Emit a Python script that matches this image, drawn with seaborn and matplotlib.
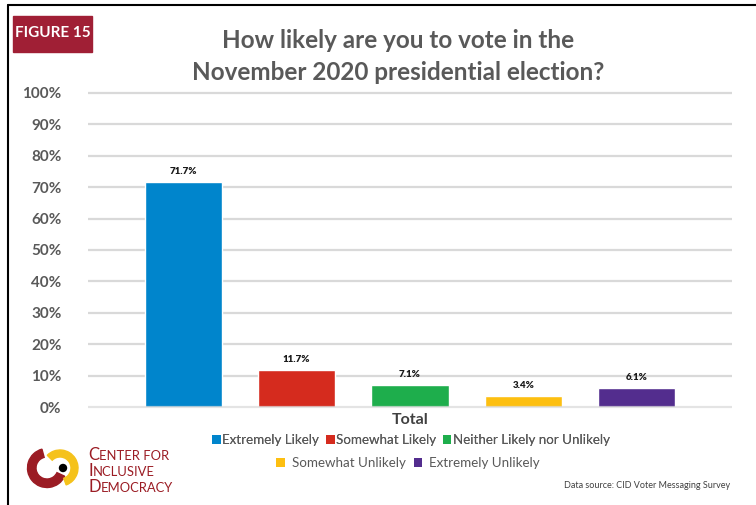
import matplotlib
matplotlib.use("Agg")
import matplotlib.pyplot as plt
import seaborn as sns
import pandas as pd
from matplotlib.patches import Patch, Rectangle, Wedge, Circle
from matplotlib.lines import Line2D

categories = ["Extremely Likely", "Somewhat Likely", "Neither Likely nor Unlikely",
              "Somewhat Unlikely", "Extremely Unlikely"]
values = [71.7, 11.7, 7.1, 3.4, 6.1]
colors = ["#0085CC", "#D52B1E", "#1EAE4C", "#FDBF11", "#532D8E"]
yticks = [0, 10, 20, 30, 40, 50, 60, 70, 80, 90, 100]
ytick_labels = [f"{t}%" for t in yticks]

sns.set_theme(style="white")
plt.rcParams['font.family'] = ['Lato', 'DejaVu Sans']

df = pd.DataFrame({"cat": categories, "val": values})

fig = plt.figure(figsize=(7.56, 5.05), dpi=100)
W, H = 756, 505
def fx(x): return x / W
def fy(y): return 1 - y / H

ax = fig.add_axes([fx(88), fy(409), fx(732) - fx(88), fy(91) - fy(409)])
sns.barplot(data=df, x="cat", y="val", hue="cat", palette=colors, dodge=False,
            width=0.68, ax=ax, legend=False, zorder=2, saturation=1)
ax.set_ylim(-0.6, 100.6)
ax.set_xlim(-0.84, 4.84)
ax.set_yticks(yticks)
ax.set_yticklabels(ytick_labels)
ax.set_xticks([])
for t in yticks:
    ax.axhline(t, color="#D9D9D9", lw=1.6, zorder=1 if t > 0 else 3, alpha=1 if t > 0 else 0.7)
for s in ax.spines.values():
    s.set_visible(False)
ax.tick_params(axis="y", length=0, pad=19, labelsize=11, labelcolor="#595959")
for lab in ax.get_yticklabels():
    lab.set_fontweight("bold")
ax.set_xlabel("")
ax.set_ylabel("")
for i, v in enumerate(values):
    ax.text(i, v + 2.0, f"{v}%", ha="center", va="bottom", fontsize=7,
            fontweight="heavy", color="#1a1a1a")

# Total label
fig.text(fx(410), fy(420), "Total", ha="center", va="center", fontsize=11.5,
         fontweight="bold", color="#404040")

# Title
fig.text(fx(398), fy(40), "How likely are you to vote in the", ha="center", va="center",
         fontsize=17.5, fontweight="bold", color="#595959")
fig.text(fx(398), fy(72), "November 2020 presidential election?", ha="center", va="center",
         fontsize=17.5, fontweight="bold", color="#595959")

# Figure badge
fig.patches.append(Rectangle((fx(13), fy(52)), fx(92) - fx(13), fy(16) - fy(52),
                             transform=fig.transFigure, color="#A01F35", zorder=5))
fig.text(fx(52.5), fy(33), "FIGURE 15", ha="center", va="center", fontsize=11,
         fontweight="bold", color="white", zorder=6)

# Border lines
fig.add_artist(Line2D([fx(8), 1], [fy(5), fy(5)], color="black", lw=1.5,
                      transform=fig.transFigure))
fig.add_artist(Line2D([fx(8), fx(8)], [fy(5), 0], color="black", lw=1.5,
                      transform=fig.transFigure))

# Legends
h1 = [Patch(facecolor=c, edgecolor="none") for c in colors[:3]]
h2 = [Patch(facecolor=c, edgecolor="none") for c in colors[3:]]
lg1 = fig.legend(h1, categories[:3], loc="center", bbox_to_anchor=(fx(411), fy(440)),
                 ncol=3, frameon=False, fontsize=9.6, handlelength=0.65, handleheight=0.65,
                 handletextpad=0.1, columnspacing=0.5, labelcolor="#595959")
lg2 = fig.legend(h2, categories[3:], loc="center", bbox_to_anchor=(fx(408), fy(463)),
                 ncol=2, frameon=False, fontsize=9.6, handlelength=0.65, handleheight=0.65,
                 handletextpad=0.5, columnspacing=0.6, labelcolor="#595959")
fig.add_artist(lg1)

# Logo
lax = fig.add_axes([fx(22), fy(495), fx(82) - fx(22), fy(445) - fy(495)])
lax.set_xlim(0, 60)
lax.set_ylim(0, 50)
lax.set_aspect("equal")
lax.axis("off")
lax.add_patch(Wedge((25, 27), 19.5, 105, 335, width=8.5, color="#9B1C24"))
lax.add_patch(Wedge((38, 27), 18, -70, 135, width=7, color="#F5C21B"))
lax.add_patch(Circle((41, 27), 3.5, color="black"))

logo_color = "#9B1C24"
BIG, SMALL = 12, 9.4
fig.canvas.draw()
renderer = fig.canvas.get_renderer()
for word_line, ypix in [("CENTER FOR", 460), ("INCLUSIVE", 476), ("DEMOCRACY", 492)]:
    t1 = fig.text(fx(88), fy(ypix), word_line[0], ha="left", va="baseline",
                  fontsize=BIG, color=logo_color, fontweight="normal")
    bb = t1.get_window_extent(renderer)
    fig.text(bb.x1 / W, fy(ypix), word_line[1:], ha="left", va="baseline",
             fontsize=SMALL, color=logo_color, fontweight="normal")

fig.text(fx(730), fy(486), "Data source: CID Voter Messaging Survey", ha="right",
         va="center", fontsize=6.5, color="#404040")

fig.savefig("out.png", dpi=100)
